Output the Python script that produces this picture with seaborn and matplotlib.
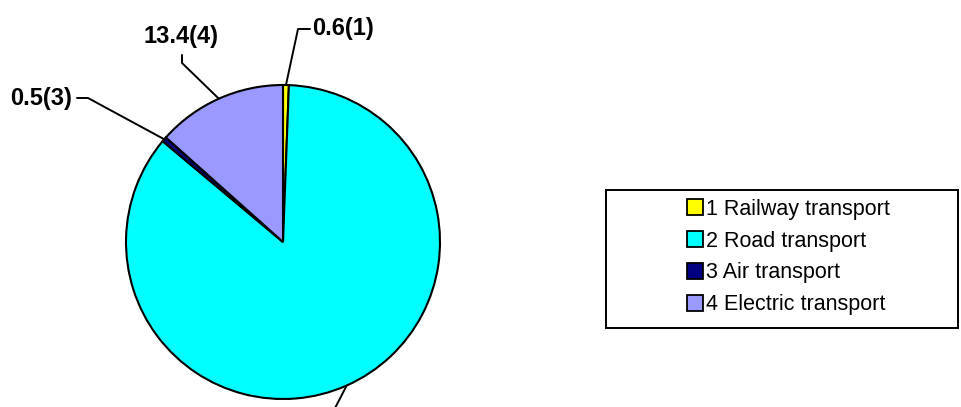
import numpy as np
import matplotlib
matplotlib.use('Agg')
import matplotlib.pyplot as plt
import seaborn as sns
from matplotlib.patches import Rectangle

#Data
categories = ['1 Railway transport', '2 Road transport', '3 Air transport', '4 Electric transport']
shares = [0.6, 85.5, 0.5, 13.4]
labels = ['0.6(1)', '85.5(2)', '0.5(3)', '13.4(4)']
colors = ['#FFFF00', '#00FFFF', '#000080', '#9999FF']

sns.set_style('white')
plt.rcParams['font.family'] = ['Liberation Sans', 'DejaVu Sans']
plt.rcParams['text.color'] = 'black'

W, H = 962, 407
fig = plt.figure(figsize=(W / 100, H / 100), dpi=100)

#pie centre and radius in pixels
cx, cy, r = 283, 242, 157
ax = fig.add_axes([(cx - r) / W, (H - cy - r) / H, 2 * r / W, 2 * r / H])
wedges, _ = ax.pie(shares, colors=colors, startangle=90, counterclock=False,
                   wedgeprops=dict(edgecolor='black', linewidth=1.5))
ax.set_xlim(-1, 1)
ax.set_ylim(-1, 1)
ax.axis('off')

#leader lines: (elbow, end, text pos, ha) in pixels
#the road label sits below the picture edge in the original, only its line shows
leaders = [((298, 29), (310, 29), (312, 29), 'left'),
           ((333, 412), (333, 412), None, 'center'),
           ((88, 98), (77, 98), (72, 98), 'right'),
           ((182, 63), (182, 55), (181, 37), 'center')]

def px(p):
    return (p[0] - cx) / r, (cy - p[1]) / r

for w, lab, (elb, end, tpos, ha) in zip(wedges, labels, leaders):
    ang = np.deg2rad((w.theta1 + w.theta2) / 2)
    start = (np.cos(ang), np.sin(ang))
    e1, e2 = px(elb), px(end)
    ax.plot([start[0], e1[0], e2[0]], [start[1], e1[1], e2[1]],
            color='black', lw=1.4, clip_on=False)
    if tpos is None:
        continue
    t = px(tpos)
    ax.text(t[0], t[1], lab, ha=ha, va='center', fontsize=17,
            fontweight='bold', color='black', clip_on=False)

#legend box
fig.patches.append(Rectangle((606 / W, (H - 328) / H), (958 - 606) / W, (328 - 190) / H,
                             transform=fig.transFigure, fill=False,
                             edgecolor='black', linewidth=1.4))
leg = fig.legend(wedges, categories, loc='center left',
                 bbox_to_anchor=(687 / W, (H - 257) / H), frameon=False,
                 fontsize=15.5, handlelength=0.75, handleheight=0.75,
                 handletextpad=0.14, labelspacing=0.51, borderpad=0,
                 borderaxespad=0)
for h in leg.legend_handles:
    h.set_linewidth(1.3)
    h.set_edgecolor('black')

fig.savefig('out.png', dpi=100)
